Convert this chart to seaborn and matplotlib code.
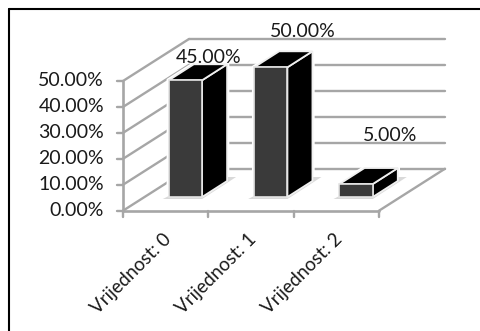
import matplotlib
matplotlib.use("Agg")
import matplotlib.pyplot as plt
import seaborn as sns
import pandas as pd
from matplotlib.lines import Line2D
from matplotlib.patches import Polygon
from matplotlib.transforms import Affine2D

categories = ["Vrijednost: 0", "Vrijednost: 1", "Vrijednost: 2"]
shares = [45.0, 50.0, 5.0]
value_ticks = [0, 10, 20, 30, 40, 50]

W, H = 481, 331
WALL_DX, WALL_DY = 66, 42      # depth of the box, pixels
SIDE_DX, SIDE_DY = 25, 16      # depth of each bar, pixels
BAR_DX, BAR_DY = 19.8, 13.7    # bar base offset from the front of the floor
LABEL_NUDGE = [(23, 1), (31.5, 14), (34, 27)]  # data label offset from bar front centre / roof
GRID = "#a6a6a6"
FRONT = "#3a3a3a"
TEXT = "#1a1a1a"
FONT = 14

sns.set_theme(style="white", rc={"font.family": ["Lato", "DejaVu Sans"]})
fig = plt.figure(figsize=(W / 100, H / 100), dpi=100)
ax = fig.add_axes([123 / W, 1 - 210.7 / H, 256 / W, 129.7 / H])

df = pd.DataFrame({"category": categories, "share": shares})
sns.barplot(data=df, x="category", y="share", width=0.39, color=FRONT,
            saturation=1, ax=ax, zorder=5)
ax.set_xlim(-0.5, 2.5)
ax.set_ylim(0, 50)
for s in ax.spines.values():
    s.set_visible(False)


def px(x, y):
    """Axes data point to display pixels."""
    return ax.transData.transform((x, y))


fig.canvas.draw()
pix = Affine2D()  # display-space coordinates
x0, y0 = px(-0.5, 0)
x1, _ = px(2.5, 0)


def rule(xs, ys, lw=1.7):
    ax.plot(xs, ys, color=GRID, lw=lw, transform=pix, clip_on=False, zorder=1)


# Walls and floor of the box
for v in value_ticks:
    _, y = px(0, v)
    rule([x0, x0 + WALL_DX], [y, y + WALL_DY])
    rule([x0 + WALL_DX, x1 + WALL_DX], [y + WALL_DY, y + WALL_DY])
    rule([x0 - 6, x0], [y, y])
rule([x0, x0], [y0, px(0, 50)[1]], 1.9)
rule([x0, x1], [y0, y0], 1.9)
rule([x1, x1 + WALL_DX], [y0, y0 + WALL_DY])
for i in range(4):
    xt, _ = px(i - 0.5, 0)
    rule([xt, xt], [y0, y0 - 6])

# Extrude each seaborn bar into a box with a soft floor shadow
shift = Affine2D().translate(BAR_DX, BAR_DY)
for bar, value, (nudge_x, nudge_y) in zip(list(ax.patches), shares, LABEL_NUDGE):
    lft, _ = px(bar.get_x(), 0)
    rgt, _ = px(bar.get_x() + bar.get_width(), 0)
    bot = y0 + BAR_DY
    top = px(0, value)[1] + BAR_DY
    lft += BAR_DX
    rgt += BAR_DX
    bar.set_transform(ax.transData + shift)
    bar.set_edgecolor("#e4e4e4")
    bar.set_linewidth(1.2)
    bar.set_clip_on(False)
    outline = [(lft, bot), (rgt, bot), (rgt + SIDE_DX, bot + SIDE_DY),
               (rgt + SIDE_DX, top + SIDE_DY), (lft + SIDE_DX, top + SIDE_DY), (lft, top)]
    ax.add_patch(Polygon(outline, closed=True, fc="white", ec="white", lw=3.2,
                         transform=pix, clip_on=False, zorder=2))
    shadow = [(lft - 6, bot - 2), (rgt, bot - 2), (rgt + SIDE_DX + 9, bot + SIDE_DY + 4),
              (rgt + 4, bot + SIDE_DY + 4)]
    ax.add_patch(Polygon(shadow, closed=True, fc="#d9d9d9", ec="none", transform=pix,
                         clip_on=False, zorder=3))
    side = [(rgt, bot), (rgt + SIDE_DX, bot + SIDE_DY), (rgt + SIDE_DX, top + SIDE_DY), (rgt, top)]
    roof = [(lft, top), (rgt, top), (rgt + SIDE_DX, top + SIDE_DY), (lft + SIDE_DX, top + SIDE_DY)]
    for face in (side, roof):
        ax.add_patch(Polygon(face, closed=True, fc="black", ec="#f0f0f0", lw=1.3,
                             transform=pix, clip_on=False, zorder=4))
    ax.text((lft + rgt) / 2 + nudge_x, top + SIDE_DY + nudge_y, f"{value:.2f}%", transform=pix,
            ha="center", va="baseline", fontsize=FONT, color=TEXT, zorder=6, clip_on=False)

# Value axis and category labels
ax.set_xlabel("")
ax.set_ylabel("")
ax.set_xticks([])
ax.set_yticks([])
for v in value_ticks:
    _, y = px(0, v)
    ax.text(x0 - 19, y, f"{v:.2f}%", transform=pix, ha="right", va="center",
            fontsize=FONT, color=TEXT, clip_on=False)
for i, name in enumerate(categories):
    xt, _ = px(i, 0)
    ax.text(xt + 3, y0 - 26, name, transform=pix, rotation=45, rotation_mode="anchor",
            ha="right", va="center", fontsize=13.5, color=TEXT, clip_on=False)

# Top and left edges of the surrounding frame
frame_x, frame_y = 8.5 / W, 1 - 9 / H
fig.add_artist(Line2D([frame_x, frame_x], [0, frame_y], color="black", lw=1.5))
fig.add_artist(Line2D([frame_x, 1], [frame_y, frame_y], color="black", lw=1.5))

fig.savefig("out.png", dpi=100)
